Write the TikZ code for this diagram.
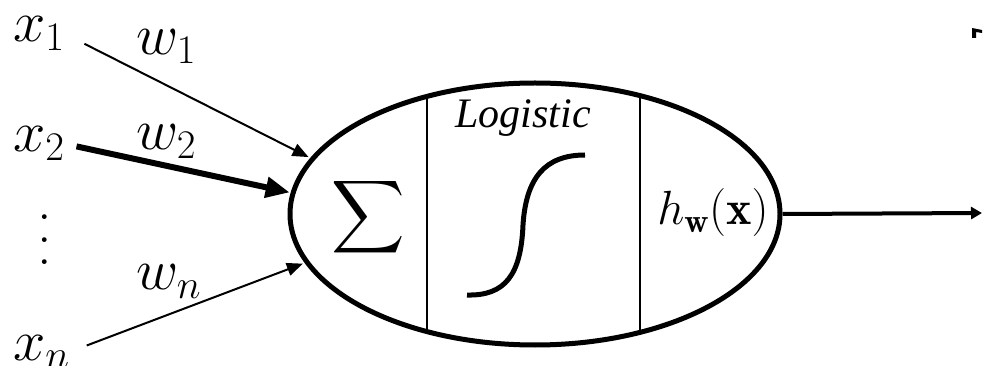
\RequirePackage{fix-cm}
\documentclass[tikz,border=0pt]{standalone}
\usepackage{fontspec}
\newfontfamily\timesfont{Liberation Serif}[ItalicFont={Liberation Serif Italic}]
\usetikzlibrary{shapes.geometric,arrows.meta}
\newcommand\tallvdots{\vbox{\baselineskip=22.5pt\lineskiplimit=0pt\hbox{.}\hbox{.}\hbox{.}}}
\begin{document}
\begin{tikzpicture}[x=1pt,y=-1pt,
  lbl/.style={inner sep=0pt, anchor=base west, font=\fontsize{58}{60}\selectfont},
  wire/.style={line width=2pt, -{Triangle[length=16pt,width=13pt]}},
  thickwire/.style={line width=6pt, -{Triangle[length=24pt,width=20pt]}},
  divider/.style={line width=2pt}]
\useasboundingbox (0,0) rectangle (983,366);
% inputs
\node[lbl] (x1) at (13,42) {$x_1$};
\node[lbl] (x2) at (13,152) {$x_2$};
\node[lbl, anchor=center] (dots) at (45,240) {\tallvdots};
\node[lbl] (xn) at (13,360) {$x_n$};
% weights
\node[lbl] (w1) at (136,55) {$w_1$};
\node[lbl] (w2) at (136,150) {$w_2$};
\node[lbl] (wn) at (136,290) {$w_n$};
% neuron
\node[ellipse, draw, line width=5pt, minimum width=490pt, minimum height=262pt, inner sep=0pt] (neuron) at (535,214) {};
\begin{scope}
\clip (535,214) ellipse [x radius=245, y radius=131];
\draw[divider] (427,60) -- (427,360);
\draw[divider] (640,60) -- (640,360);
\end{scope}
\node[inner sep=0pt, scale=5.1] (sum) at (368,217) {$\displaystyle\sum$};
\node[inner sep=0pt, anchor=base] (logistic) at (523,128) {\fontsize{42}{46}\selectfont\timesfont\itshape Logistic};
\draw[line width=5pt] (467,295) .. controls (505,296) and (521,275) .. (523,225)
  .. controls (526,178) and (545,155) .. (585,155);
\node[inner sep=0pt, anchor=base, font=\fontsize{48}{52}\selectfont] (h) at (713,225) {$h_{\mathbf{w}}(\mathbf{x})$};
% connectors
\draw[wire, shorten <=22pt, shorten >=2pt] (x1.east) -- (neuron.166);
\draw[thickwire, shorten <=12pt, shorten >=1pt] (x2.east) -- (neuron.175);
\draw[wire, shorten <=18pt, shorten >=2pt] (xn.east) -- (neuron.192);
\coordinate (out) at (982,213);
\draw[line width=4pt, -{Triangle[length=11pt,width=12pt]}] (neuron.east) -- (out);
% cropped fragment at top right
\fill (972,28) -- (982,30) -- (982,33) -- (976,32) -- (976,38) -- (972,38) -- cycle;
\end{tikzpicture}
\end{document}
